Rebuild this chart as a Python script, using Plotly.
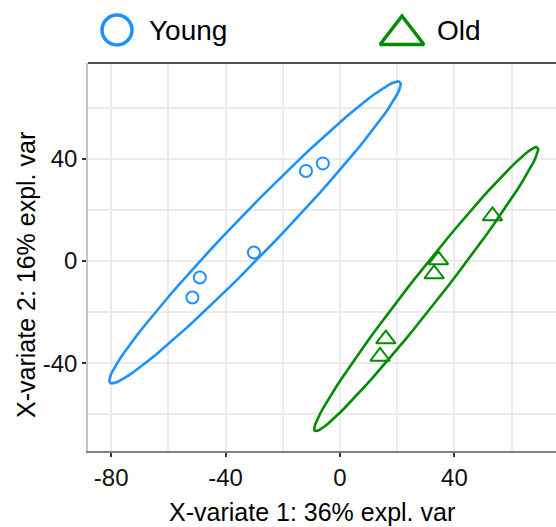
import numpy as np
import plotly.graph_objects as go

# ---- data ----
groups = ["Young", "Old"]
young_x = [-6.0, -11.9, -30.1, -49.0, -51.6]
young_y = [38.2, 35.2, 3.3, -6.5, -14.3]
old_x = [53.3, 34.4, 32.9, 16.0, 14.0]
old_y = [17.6, 0.4, -5.1, -30.6, -37.4]
tick_vals = [-80, -40, 0, 40]
tick_text = ["-80", "-40", "0", "40"]
x_title = "X-variate 1: 36% expl. var"
y_title = "X-variate 2: 16% expl. var"

# ---- styling ----
W, H = 556, 527
BLUE = "#1E90FF"
GREEN = "#008B00"
FONT = "Liberation Sans, Arial, sans-serif"
L, R, T, B = 88, 556, 63, 451   # plot area in pixels


def px(x):
    return x / W


def py(y):
    return 1 - y / H


def ellipse(xs, ys, level=0.95, n=100):
    """95% confidence ellipse as in ellipse::ellipse (used by mixOmics)."""
    xs, ys = np.asarray(xs, float), np.asarray(ys, float)
    cov = np.cov(xs, ys)
    t = np.sqrt(-2 * np.log(1 - level))  # sqrt(qchisq(level, 2))
    sx, sy = np.sqrt(cov[0, 0]), np.sqrt(cov[1, 1])
    r = cov[0, 1] / (sx * sy)
    d = np.arccos(r)
    a = np.linspace(0, 2 * np.pi, n)
    ex = t * sx * np.cos(a + d / 2) + xs.mean()
    ey = t * sy * np.cos(a - d / 2) + ys.mean()
    return ex.tolist(), ey.tolist()


fig = go.Figure()

for xs, ys, col, sym, size, name in [
    (young_x, young_y, BLUE, "circle-open", 12, groups[0]),
    (old_x, old_y, GREEN, "triangle-up-open", 17, groups[1]),
]:
    ex, ey = ellipse(xs, ys)
    fig.add_trace(go.Scatter(x=ex, y=ey, mode="lines",
                             line=dict(color=col, width=2.6),
                             showlegend=False, hoverinfo="skip"))
    fig.add_trace(go.Scatter(x=xs, y=ys, mode="markers", name=name,
                             marker=dict(symbol=sym, size=size, color=col,
                                         line=dict(color=col, width=2)),
                             showlegend=False))

# ---- custom legend on a pixel-space helper axis ----
leg_marker_x = [117, 402]
leg_text_x = [147, 435]
leg_y = 30
fig.add_trace(go.Scatter(x=[leg_marker_x[0]], y=[leg_y], xaxis="x2", yaxis="y2",
                         mode="markers", showlegend=False, hoverinfo="skip",
                         marker=dict(symbol="circle-open", size=30, color=BLUE,
                                     line=dict(color=BLUE, width=3.5))))
fig.add_trace(go.Scatter(x=[leg_marker_x[1]], y=[leg_y + 5], xaxis="x2", yaxis="y2",
                         mode="markers", showlegend=False, hoverinfo="skip",
                         marker=dict(symbol="triangle-up-open", size=38, color=GREEN,
                                     line=dict(color=GREEN, width=3.5))))

annotations = []
for tx, name in zip(leg_text_x, groups):
    annotations.append(dict(x=tx, y=leg_y, xref="x2", yref="y2", text=name,
                            showarrow=False, xanchor="left", yanchor="middle",
                            font=dict(family=FONT, size=28, color="#000")))
annotations.append(dict(x=px(312), y=py(512), xref="paper", yref="paper",
                        text=x_title, showarrow=False, xanchor="center",
                        yanchor="middle", font=dict(family=FONT, size=25, color="#000")))
annotations.append(dict(x=px(26), y=py(275), xref="paper", yref="paper",
                        text=y_title, showarrow=False, textangle=-90,
                        xanchor="center", yanchor="middle",
                        font=dict(family=FONT, size=25, color="#000")))

axis_common = dict(
    tickmode="array", tickvals=tick_vals, ticktext=tick_text,
    ticks="outside", ticklen=4, tickwidth=1.5, tickcolor="#333",
    tickfont=dict(family=FONT, size=24, color="#111"),
    showgrid=True, gridcolor="#ebebeb", gridwidth=1.5,
    minor=dict(tickmode="linear", tick0=0, dtick=20, showgrid=True,
               gridcolor="#ebebeb", gridwidth=1.5),
    zeroline=False, showline=True,
)

fig.update_layout(
    width=W, height=H,
    margin=dict(l=0, r=0, t=0, b=0),
    paper_bgcolor="white", plot_bgcolor="rgba(0,0,0,0)",
    showlegend=False,
    xaxis=dict(domain=[px(L), px(R)], range=[-88.1, 75.5], anchor="y",
               linecolor="#808080", linewidth=1.5, **axis_common),
    yaxis=dict(domain=[py(B), py(T)], range=[-74.4, 77.5], anchor="x",
               linecolor="#c4c4c4", linewidth=1.5, **axis_common),
    xaxis2=dict(domain=[0, 1], range=[0, W], visible=False, anchor="y2",
                fixedrange=True),
    yaxis2=dict(domain=[0, 1], range=[H, 0], visible=False, anchor="x2",
                fixedrange=True),
    annotations=annotations,
    shapes=[dict(type="line", xref="paper", yref="paper",
                 x0=px(L), x1=px(R), y0=py(T), y1=py(T),
                 line=dict(color="#4d4d4d", width=2))],
)

fig.write_html("out.html", config={"displayModeBar": False},
               post_script="document.body.style.margin='0';")
